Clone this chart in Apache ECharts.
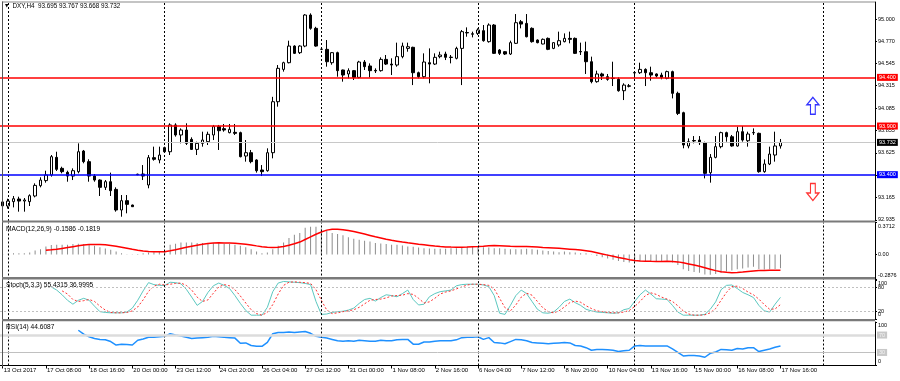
<!DOCTYPE html>
<html><head><meta charset="utf-8">
<script src="https://cdn.jsdelivr.net/npm/echarts@6/dist/echarts.min.js"></script>
<style>html,body{margin:0;padding:0;background:#fff}#c{width:900px;height:381px}</style>
</head><body><div id="c"></div>
<script>
// ---------- DATA ----------
const open = [93.12,93.078,93.123,93.150,93.129,93.123,93.181,93.287,93.339,93.397,93.578,93.465,93.424,93.386,93.431,93.643,93.534,93.386,93.345,93.270,93.328,93.249,93.037,93.133,93.088,93.405,93.407,93.294,93.575,93.551,93.678,93.636,93.911,93.808,93.859,93.763,93.660,93.722,93.739,93.808,93.894,93.873,93.832,93.835,93.832,93.592,93.626,93.551,93.448,93.441,93.626,94.150,94.482,94.551,94.722,94.654,94.722,95.041,94.904,94.690,94.688,94.551,94.654,94.476,94.435,94.469,94.400,94.558,94.517,94.472,94.469,94.585,94.537,94.527,94.613,94.698,94.709,94.448,94.407,94.551,94.537,94.613,94.640,94.608,94.596,94.698,94.861,94.848,94.852,94.880,94.767,94.938,94.681,94.664,94.640,94.750,94.972,94.955,94.904,94.784,94.743,94.801,94.698,94.733,94.767,94.801,94.801,94.666,94.664,94.561,94.356,94.435,94.407,94.392,94.380,94.263,94.313,94.445,94.448,94.482,94.448,94.435,94.424,94.390,94.459,94.236,94.037,93.695,93.751,93.756,93.729,93.420,93.578,93.688,93.832,93.790,93.695,93.842,93.749,93.830,93.825,93.431,93.510,93.602,93.695];
const high = [93.14,93.153,93.181,93.174,93.160,93.198,93.311,93.373,93.441,93.602,93.636,93.482,93.441,93.465,93.722,93.654,93.558,93.407,93.352,93.345,93.421,93.270,93.191,93.191,93.092,93.410,93.499,93.602,93.688,93.688,93.688,93.928,93.928,93.876,93.928,93.784,93.739,93.842,93.842,93.911,93.911,93.921,93.921,93.921,93.842,93.756,93.654,93.558,93.499,93.671,94.200,94.527,94.561,94.777,94.730,94.730,95.050,95.058,94.920,94.695,94.784,94.660,94.664,94.480,94.493,94.476,94.570,94.578,94.544,94.493,94.606,94.630,94.596,94.757,94.757,94.757,94.715,94.459,94.647,94.698,94.647,94.664,94.664,94.630,94.715,94.887,94.914,94.870,94.904,94.938,94.955,94.948,94.690,94.670,94.777,95.051,94.990,95.051,94.914,94.790,94.800,94.810,94.760,94.870,94.852,94.870,94.810,94.757,94.767,94.613,94.469,94.448,94.435,94.561,94.400,94.339,94.332,94.459,94.551,94.493,94.510,94.441,94.448,94.469,94.469,94.253,94.047,93.773,93.797,93.797,93.739,93.612,93.797,93.842,93.842,93.808,93.893,93.900,93.842,93.876,93.832,93.557,93.688,93.842,93.767];
const low = [93.06,93.051,93.064,93.020,93.020,93.078,93.167,93.270,93.318,93.380,93.438,93.414,93.328,93.345,93.414,93.517,93.328,93.328,93.181,93.243,93.181,93.020,92.968,93.003,93.068,93.395,93.345,93.260,93.544,93.517,93.626,93.602,93.791,93.722,93.705,93.654,93.602,93.688,93.705,93.756,93.654,93.842,93.825,93.808,93.578,93.534,93.517,93.421,93.386,93.431,93.568,94.099,94.459,94.544,94.640,94.640,94.710,94.890,94.715,94.680,94.510,94.530,94.407,94.356,94.390,94.373,94.390,94.476,94.400,94.445,94.459,94.527,94.424,94.510,94.596,94.664,94.321,94.390,94.390,94.339,94.527,94.596,94.578,94.544,94.585,94.321,94.818,94.811,94.835,94.767,94.757,94.640,94.630,94.630,94.630,94.743,94.904,94.811,94.757,94.750,94.740,94.680,94.690,94.715,94.760,94.750,94.640,94.630,94.435,94.339,94.345,94.373,94.366,94.311,94.253,94.167,94.297,94.390,94.435,94.311,94.366,94.400,94.380,94.380,94.184,94.013,93.671,93.671,93.722,93.705,93.362,93.318,93.568,93.671,93.739,93.688,93.688,93.739,93.688,93.808,93.420,93.420,93.499,93.534,93.668];
const close = [93.08,93.129,93.153,93.129,93.140,93.184,93.290,93.345,93.397,93.585,93.455,93.431,93.386,93.441,93.636,93.534,93.386,93.345,93.270,93.328,93.236,93.037,93.133,93.095,93.071,93.400,93.386,93.575,93.558,93.602,93.636,93.911,93.808,93.859,93.722,93.660,93.722,93.756,93.815,93.894,93.852,93.859,93.866,93.825,93.585,93.626,93.534,93.441,93.431,93.626,94.150,94.493,94.551,94.722,94.647,94.722,95.041,94.904,94.722,94.688,94.561,94.654,94.469,94.424,94.469,94.400,94.558,94.510,94.469,94.466,94.585,94.537,94.527,94.613,94.722,94.715,94.448,94.407,94.558,94.537,94.606,94.630,94.606,94.604,94.698,94.870,94.857,94.844,94.887,94.777,94.938,94.647,94.647,94.640,94.757,94.962,94.948,94.818,94.767,94.757,94.791,94.688,94.757,94.777,94.801,94.791,94.647,94.662,94.561,94.356,94.435,94.414,94.380,94.388,94.263,94.321,94.309,94.450,94.482,94.448,94.424,94.414,94.400,94.459,94.236,94.030,93.705,93.739,93.747,93.729,93.414,93.578,93.688,93.832,93.790,93.695,93.842,93.756,93.818,93.834,93.431,93.510,93.612,93.695,93.732];

const macdMain = [0.006,0.010,0.016,0.016,0.016,0.024,0.047,0.063,0.094,0.110,0.114,0.114,0.114,0.122,0.125,0.122,0.114,0.102,0.086,0.071,0.055,0.035,0.016,0.005,0.004,0.008,0.016,0.024,0.027,0.035,0.035,0.114,0.125,0.141,0.141,0.141,0.133,0.133,0.133,0.133,0.133,0.125,0.122,0.114,0.102,0.086,0.063,0.035,0.016,0.024,0.063,0.102,0.141,0.192,0.231,0.251,0.310,0.322,0.322,0.302,0.278,0.251,0.239,0.224,0.200,0.184,0.173,0.161,0.153,0.133,0.129,0.122,0.114,0.114,0.106,0.094,0.090,0.082,0.075,0.071,0.067,0.067,0.067,0.075,0.075,0.082,0.090,0.094,0.094,0.086,0.082,0.075,0.075,0.067,0.063,0.063,0.063,0.067,0.063,0.055,0.047,0.043,0.035,0.027,0.035,0.027,0.024,0.016,0.016,0.004,-0.015,-0.030,-0.045,-0.060,-0.075,-0.085,-0.090,-0.085,-0.080,-0.080,-0.075,-0.075,-0.075,-0.070,-0.090,-0.120,-0.170,-0.190,-0.200,-0.210,-0.230,-0.232,-0.225,-0.210,-0.195,-0.185,-0.170,-0.160,-0.150,-0.140,-0.165,-0.172,-0.170,-0.165,-0.1586];
const macdSignal = [null,null,null,null,null,null,null,null,0.050,0.055,0.062,0.072,0.082,0.092,0.102,0.110,0.116,0.118,0.117,0.113,0.106,0.097,0.086,0.074,0.062,0.051,0.042,0.036,0.033,0.032,0.033,0.044,0.056,0.070,0.084,0.096,0.108,0.119,0.128,0.134,0.136,0.135,0.133,0.130,0.126,0.120,0.112,0.101,0.092,0.085,0.083,0.085,0.094,0.108,0.126,0.145,0.175,0.205,0.235,0.262,0.283,0.294,0.294,0.288,0.278,0.266,0.252,0.238,0.222,0.206,0.192,0.178,0.165,0.155,0.145,0.136,0.128,0.120,0.113,0.106,0.099,0.093,0.089,0.087,0.086,0.086,0.088,0.091,0.094,0.098,0.103,0.104,0.103,0.100,0.097,0.095,0.094,0.093,0.090,0.087,0.083,0.080,0.077,0.073,0.068,0.063,0.058,0.053,0.045,0.035,0.022,0.008,-0.006,-0.020,-0.034,-0.046,-0.058,-0.068,-0.073,-0.076,-0.078,-0.079,-0.079,-0.078,-0.079,-0.084,-0.095,-0.108,-0.121,-0.135,-0.152,-0.169,-0.185,-0.197,-0.205,-0.209,-0.207,-0.201,-0.194,-0.188,-0.185,-0.183,-0.182,-0.181,-0.1819];

const stochMain = [null,null,null,null,null,null,null,null,null,82,74,62,48,38,48,53,48,33,19,17,16,16,16,18,28,48,72,93,88,86,86,94,93,90,76,56,35,45,68,85,92,86,78,60,40,22,10,10,10,30,70,92,96,95,94,93,91,88,45,12,13,17,19,20,23,28,40,50,53,46,55,62,60,57,65,74,50,36,38,57,65,70,72,74,85,88,89,89,89,87,83,60,15,12,35,60,74,65,45,25,16,15,18,30,45,51,42,35,25,21,18,17,16,15,16,24,27,45,62,74,64,52,51,50,35,18,10,10,10,10,12,25,44,75,86,87,78,68,62,55,35,21,18,38,55.43];
const stochSignal = [null,null,null,null,null,null,null,null,null,null,null,72,64,50,45,47,50,45,33,23,17,16,16,17,21,31,49,71,84,89,87,89,91,92,86,74,56,45,49,66,82,88,85,75,59,41,24,14,10,17,37,64,86,94,95,94,93,91,75,48,23,14,16,19,21,24,30,39,48,50,51,54,59,60,61,65,63,53,41,44,53,64,69,72,77,82,87,89,89,88,86,77,53,29,21,36,56,66,61,45,29,19,16,21,31,42,46,43,34,27,21,19,17,16,16,18,22,32,45,60,67,63,56,51,45,34,21,13,10,10,11,16,27,48,68,83,84,78,69,62,51,37,25,26,37.0];
const rsiValues = [null,null,null,null,null,null,null,null,null,null,null,null,null,null,81,72,66,62,60,59,55,47,49,48,47,58,61,65,65,66,67,73,70,68,65,62,63,64,65,67,66,65,64,63,51,52,46,44,44,53,73,76,76,77,76,77,78,74,67,65,63,60,57,56,57,56,58,57,56,56,58,57,57,59,60,60,49,49,54,54,56,57,57,57,59,64,65,65,66,60,64,53,52,50,55,60,59,57,53,52,51,50,51,52,53,52,46,45,41,35,37,37,36,35,32,34,35,45,46,45,45,45,45,45,38,30,22,23,23,22,19,28,31,37,36,35,39,38,41,41,32,35,38,42,44.61];

const timeTickLabels = [[0,'13 Oct 2017'],[8,'17 Oct 08:00'],[16,'18 Oct 16:00'],[24,'20 Oct 00:00'],[32,'23 Oct 12:00'],[40,'24 Oct 20:00'],[48,'26 Oct 04:00'],[56,'27 Oct 12:00'],[64,'31 Oct 00:00'],[72,'1 Nov 08:00'],[80,'2 Nov 16:00'],[88,'6 Nov 04:00'],[96,'7 Nov 12:00'],[104,'8 Nov 20:00'],[112,'10 Nov 04:00'],[120,'13 Nov 16:00'],[128,'15 Nov 00:00'],[136,'16 Nov 08:00'],[144,'17 Nov 16:00']];
const priceTicks = [92.935,93.165,93.395,93.625,93.855,94.085,94.315,94.545,94.770,95.000];
const macdTicks = [0.3712,0,-0.2876];
const stochEndTicks = [100,0];
const stochLevelTicks = [80,20];
const rsiTicks = [100,0];
const resistanceLevels = [94.400,93.900];
const supportLevels = [93.400];
const bidPrice = 93.732;
const stochLevels = [80,20];
const rsiLevels = [70,30];
const periodSeparators = [1,30,59,88,117,152];
const arrowUpPoint = [150,94.108];
const arrowDownPoint = [150,93.222];
const headerText = 'DXY,H4  93.695 93.767 93.668 93.732';
const macdTitle = 'MACD(12,26,9) -0.1586 -0.1819';
const stochTitle = 'Stoch(5,3,3) 55.4315 36.9995';
const rsiTitle = 'RSI(14) 44.6087';

// ---------- BUILD ----------
const N_CAT = 162;
const MON = ['Jan','Feb','Mar','Apr','May','Jun','Jul','Aug','Sep','Oct','Nov','Dec'];
function buildCategories(){
  const cats=[]; let t=Date.UTC(2017,9,16,0,0);
  while(cats.length<N_CAT){
    const d=new Date(t), wd=d.getUTCDay(), h=d.getUTCHours();
    if(wd>=1 && wd<=5 && !(wd===5 && h===20)){
      cats.push(d.getUTCDate()+' '+MON[d.getUTCMonth()]+' '+String(h).padStart(2,'0')+':00');
    }
    t+=4*3600e3;
  }
  return cats;
}
const cats = buildCategories();
const labelMap = {}; timeTickLabels.forEach(([i,t])=>labelMap[i]=t);
const candleData = open.map((o,i)=>[o, close[i], low[i], high[i]]);

const FONT = 'Liberation Sans, Arial, sans-serif';
const sepLines = periodSeparators.map(i=>({xAxis:i}));
const sepStyle = {color:'#000', type:[2,2], width:1};
function sepMarkLine(extra){
  return {silent:true, symbol:['none','none'], animation:false, precision:4,
    label:{show:false}, lineStyle:sepStyle,
    data: sepLines.concat(extra||[])};
}
function levelLine(v, color, bg, txtColor, width, text){
  return {yAxis:v, lineStyle:{color:color, width:width, type:'solid'},
    label:{show:true, position:'end', distance:2, formatter:text,
      backgroundColor:bg, color:txtColor, fontSize:5.5, fontFamily:FONT, padding:[1,2,0,2]}};
}

const grids = [
  {left:0, right:25, top:2, height:219},
  {left:0, right:25, top:222.5, height:57},
  {left:0, right:25, top:279.9, height:39.2},
  {left:0, right:25, top:322, height:43.5}
];
const xAxes = grids.map((g,i)=>({
  type:'category', gridIndex:i, data:cats, boundaryGap:true,
  axisLine:{show:i===3, lineStyle:{color:'#000', width:1}},
  axisTick:{show:i===3, alignWithLabel:true, length:3, lineStyle:{color:'#000'},
    interval:(idx)=>labelMap[idx]!==undefined},
  axisLabel:{show:i===3, interval:(idx)=>labelMap[idx]!==undefined,
    formatter:(v,idx)=>labelMap[idx]||'', align:'left', margin:1.5, padding:[0,0,0,1],
    fontSize:6, fontFamily:FONT, color:'#000'},
  splitLine:{show:false}
}));
const richShift = {
  dn:{fontSize:5.5, fontFamily:FONT, color:'#000', padding:[7,0,0,0]},
  up:{fontSize:5.5, fontFamily:FONT, color:'#000', padding:[0,0,9,0]},
  n:{fontSize:5.5, fontFamily:FONT, color:'#000'}
};
function yAx(i, min, max, ticks, fmt, shiftEnds, lineShow){
  return {type:'value', gridIndex:i, position:'right', min:min, max:max, scale:true,
    axisLine:{show:lineShow!==false, lineStyle:{color:'#000', width:1}},
    axisTick:{show:true, length:2, customValues:ticks, lineStyle:{color:'#000'}},
    axisLabel:{customValues:ticks, fontSize:5.5, fontFamily:FONT, color:'#000', margin:3, rich:richShift,
      showMinLabel:true, showMaxLabel:true, hideOverlap:false,
      formatter: v=>{
        const t=fmt(v);
        if(!shiftEnds) return t;
        if(v===max) return '{dn|'+t+'}';
        if(v===min) return '{up|'+t+'}';
        return '{n|'+t+'}';
      }},
    splitLine:{show:false}};
}
const yAxes = [
  yAx(0, 92.924, 95.1747, priceTicks, v=>v.toFixed(3), false),
  yAx(1, -0.2876, 0.3712, macdTicks, v=>v===0?'0.00':v.toFixed(4), true),
  yAx(2, 0, 100, stochEndTicks, v=>String(v), true),
  yAx(3, 0, 100, rsiTicks, v=>String(v), true),
  yAx(2, 0, 100, stochLevelTicks, v=>String(v), false, false)
];

const mainLevels = [
  levelLine(bidPrice, '#c8c8c8', '#000', '#fff', 1, bidPrice.toFixed(3))
].concat(resistanceLevels.map(v=>levelLine(v,'#ff0000','#ff0000','#fff',1.5,v.toFixed(3))))
 .concat(supportLevels.map(v=>levelLine(v,'#0000ff','#0000ff','#fff',1.5,v.toFixed(3))));

const series = [
  {type:'candlestick', xAxisIndex:0, yAxisIndex:0, data:candleData, barWidth:3,
    itemStyle:{color:'#fff', color0:'#000', borderColor:'#000', borderColor0:'#000', borderWidth:1},
    markLine: sepMarkLine(mainLevels)},
  {type:'scatter', xAxisIndex:0, yAxisIndex:0, silent:true,
    data:[{value:arrowUpPoint, symbol:'path://M5,0L10,7L7,7L7,16L3,16L3,7L0,7Z',
           itemStyle:{color:'#fff', borderColor:'#0000ff', borderWidth:1.3}},
          {value:arrowDownPoint, symbol:'path://M3,0L7,0L7,9L10,9L5,16L0,9L3,9Z',
           itemStyle:{color:'#fff', borderColor:'#ff0000', borderWidth:1.3}}],
    symbolSize:[12,17]},
  {type:'bar', xAxisIndex:1, yAxisIndex:1, data:macdMain, barWidth:1,
    itemStyle:{color:'#8c8c8c'}, markLine: sepMarkLine()},
  {type:'line', xAxisIndex:1, yAxisIndex:1, data:macdSignal, showSymbol:false,
    lineStyle:{color:'#ff0000', width:1.5}},
  {type:'line', xAxisIndex:2, yAxisIndex:2, data:stochMain, showSymbol:false,
    lineStyle:{color:'#5cc8c0', width:1},
    markLine: sepMarkLine(stochLevels.map(v=>({yAxis:v, lineStyle:{color:'#c0c0c0', type:[2,2], width:1}})))},
  {type:'line', xAxisIndex:2, yAxisIndex:2, data:stochSignal, showSymbol:false,
    lineStyle:{color:'#ff3030', width:1, type:[2,2]}},
  {type:'line', xAxisIndex:3, yAxisIndex:3, data:rsiValues, showSymbol:false,
    lineStyle:{color:'#1e90ff', width:1.5},
    markLine: sepMarkLine([
      levelLine(rsiLevels[0], '#dcdcdc', '#c8c8c8', '#f4f4f4', 2.5, String(rsiLevels[0])),
      levelLine(rsiLevels[1], '#c0c0c0', '#c8c8c8', '#f4f4f4', 1, String(rsiLevels[1]))
    ])}
];
series.forEach(s=>{s.animation=false;});

const gray = '#7a7a7a';
const graphic = [
  {type:'rect', shape:{x:2, y:1.5, width:873, height:1}, style:{fill:'#8a8a8a'}, z:100, silent:true},
  {type:'rect', shape:{x:2, y:1.5, width:1, height:365}, style:{fill:'#555'}, z:100, silent:true},
  {type:'rect', shape:{x:2, y:220.5, width:873, height:2}, style:{fill:gray}, z:100, silent:true},
  {type:'rect', shape:{x:2, y:277, width:873, height:2.5}, style:{fill:gray}, z:100, silent:true},
  {type:'rect', shape:{x:2, y:319, width:873, height:2.2}, style:{fill:gray}, z:100, silent:true},
  {type:'text', x:5, y:3.5, style:{text:'▼', fontSize:4.5, fill:'#000', fontFamily:'DejaVu Sans'}, z:101},
  {type:'text', x:12.5, y:3.3, style:{text:headerText, fontSize:6.3, fill:'#000', fontFamily:FONT}, z:101},
  {type:'text', x:6, y:226, style:{text:macdTitle, fontSize:6.6, fill:'#000', fontFamily:FONT}, z:101},
  {type:'text', x:6, y:282, style:{text:stochTitle, fontSize:6.6, fill:'#000', fontFamily:FONT}, z:101},
  {type:'text', x:6, y:324, style:{text:rsiTitle, fontSize:6.6, fill:'#000', fontFamily:FONT}, z:101}
];

const chart = echarts.init(document.getElementById('c'), null, {renderer:'canvas'});
chart.setOption({
  animation:false, backgroundColor:'#fff',
  textStyle:{fontFamily:FONT},
  grid:grids, xAxis:xAxes, yAxis:yAxes, series:series, graphic:graphic
});
</script>
</body></html>
